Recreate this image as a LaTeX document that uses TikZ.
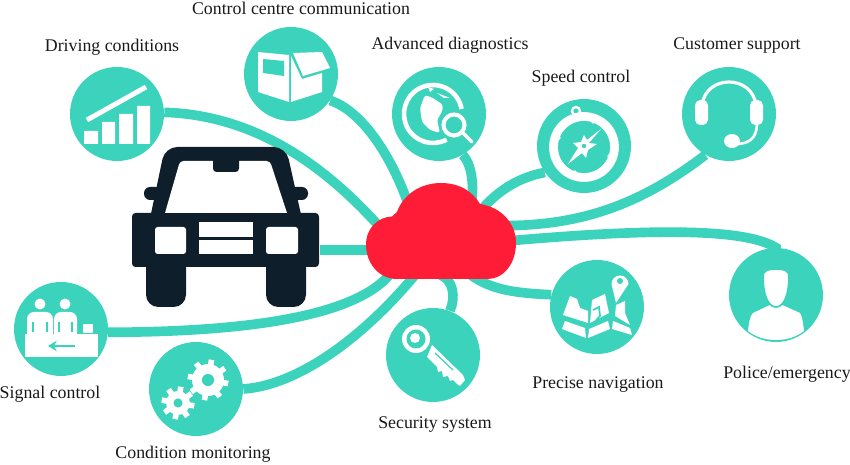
\documentclass[tikz,border=0pt]{standalone}
\usepackage{fontspec}
\setmainfont{Liberation Serif}
\usetikzlibrary{arrows.meta,positioning,backgrounds}
\definecolor{hubteal}{HTML}{3CD3BD}
\definecolor{hubred}{HTML}{FF1C36}
\definecolor{carblue}{HTML}{0E1E2B}

\begin{document}
\begin{tikzpicture}[
        x=0.02cm, y=-0.02cm,
        hub/.style={circle, fill=hubteal, minimum size=1.88cm, inner sep=0pt},
        lbl/.style={inner sep=0pt, text height=7pt, text depth=2pt, text=black!90,
            font=\fontsize{10.15}{12}\selectfont},
        link/.style={draw=hubteal, line width=5.5pt},
        icon/.style={fill=white, draw=none},
        cut/.style={fill=hubteal, draw=none}
    ]
    \useasboundingbox (0,0) rectangle (850,465);

    \node[hub] (driving) at (117,114) {};
    \node[hub] (control) at (291,74) {};
    \node[hub] (advanced) at (439,114) {};
    \node[hub] (speed) at (584,146) {};
    \node[hub] (customer) at (729,114) {};
    \node[hub] (police) at (776,295) {};
    \node[hub] (precise) at (597,307) {};
    \node[hub] (security) at (433,355) {};
    \node[hub] (condition) at (196,389) {};
    \node[hub] (signal) at (61,329) {};

    \node[lbl, above=0.23cm of driving, xshift=-0.1cm] (drivinglbl) {Driving conditions};
    \node[lbl, above=0.17cm of control, xshift=0.2cm] (controllbl) {Control centre communication};
    \node[lbl, above=0.27cm of advanced, xshift=0.22cm] (advancedlbl) {Advanced diagnostics};
    \node[lbl, above=0.25cm of speed, xshift=-0.06cm] (speedlbl) {Speed control};
    \node[lbl, above=0.27cm of customer, xshift=0.16cm] (customerlbl) {Customer support};
    \node[lbl, below=0.47cm of police, xshift=0.22cm] (policelbl) {Police/emergency};
    \node[lbl, below=0.43cm of precise, xshift=0.02cm] (preciselbl) {Precise navigation};
    \node[lbl, below=0.27cm of security, xshift=0.04cm] (securitylbl) {Security system};
    \node[lbl, below=0.19cm of condition, xshift=-0.06cm] (conditionlbl) {Condition monitoring};
    \node[lbl, below=0.19cm of signal, xshift=-0.22cm] (signallbl) {Signal control};

    \node[minimum width=2.4cm, minimum height=1cm, inner sep=0pt] (cloud) at (441,250) {};
    \node[minimum width=3.76cm, minimum height=0.2cm, inner sep=0pt] (car) at (226,250) {};

    \begin{scope}[on background layer]
        \draw[link] (car.east) -- (cloud.west);
        \draw[link] (driving.2) .. controls (250,115) and (320,160) .. (cloud.160);
        \draw[link] (control.-34) .. controls (365,112) and (398,165) .. (cloud.136);
        \draw[link] (advanced.-60) .. controls (473,165) and (477,195) .. (cloud.46);
        \draw[link] (speed.214) .. controls (515,178) and (490,195) .. (cloud.41);
        \draw[link] (customer.240) .. controls (640,205) and (580,226) .. (cloud.22);
        \draw[link] (police.center) -- (police.90) .. controls (740,225) and (620,231) .. (cloud.8);
        \draw[link] (precise.165) .. controls (515,293) and (492,290) .. (cloud.-40);
        \draw[link] (security.69) .. controls (456,297) and (453,280) .. (cloud.-90);
        \draw[link] (condition.east) .. controls (300,385) and (365,335) .. (cloud.224);
        \draw[link] (signal.-4) .. controls (230,332) and (350,320) .. (cloud.206);
    \end{scope}

    % Cloud
    \fill[hubred] (397,279) .. controls (378,279) and (366,262) .. (366,245)
        .. controls (366,228) and (378,217) .. (392,216.5) -- (397,212)
        .. controls (403,195) and (420,183) .. (441,183)
        .. controls (460,183) and (473,192) .. (480,204)
        .. controls (500,207) and (516,222) .. (516,243)
        .. controls (516,264) and (503,279) .. (488,279) -- cycle;

    % Car
    \fill[carblue, rounded corners=7pt] (146,255) rectangle (186,307);
    \fill[carblue, rounded corners=7pt] (266,255) rectangle (306,307);
    \fill[carblue, rounded corners=2pt] (132,213) rectangle (319,267);
    \fill[carblue, rounded corners=3.5pt] (144,187) rectangle (162,200);
    \fill[carblue, rounded corners=3.5pt] (290,187) rectangle (308,200);
    \fill[carblue, rounded corners=7pt] (148,228) -- (165,147) -- (286,147) -- (304,228) -- cycle;
    \fill[white] (165,213) [rounded corners=2pt] -- (180,161) -- (270,161) [sharp corners] -- (287,213) -- cycle;
    \fill[carblue, rounded corners=2pt] (213,155) rectangle (239,172);
    \fill[white, rounded corners=1.5pt] (155,227) rectangle (186,254);
    \fill[white, rounded corners=1.5pt] (266,227) rectangle (298,254);
    \fill[white] (199,222) rectangle (253,237);
    \fill[white] (199,240) rectangle (253,254);

    % Driving conditions icon
    \fill[icon] (84,131) rectangle (98,144) (102,122) rectangle (115,144)
        (119,114) rectangle (133,144) (137,106) rectangle (150,144);
    \draw[white, line width=2.8pt] (87,120) -- (146,87);

    % Control centre icon
    \fill[icon] (258,52) -- (289,55) -- (289,102) -- (258,92) -- cycle;
    \fill[cut] (263,59) -- (284,61) -- (284,76) -- (263,73) -- cycle;
    \fill[icon] (291,56) -- (302,79) -- (322,73) -- (322,92) -- (291,102) -- cycle;
    \fill[icon] (293,53) -- (322,52) -- (330,68) -- (303,76) -- cycle;

    % Advanced diagnostics icon
    \draw[white, line width=2.6pt] (433,114) ++(62:29) arc[start angle=62, end angle=350, radius=29];
    \fill[icon, rounded corners=1.5pt] (420,108) -- (425,95) -- (433,98) -- (443,105) -- (442,112)
        -- (437,120) -- (440,133) -- (430,130) -- (422,122) -- cycle;
    \fill[icon] (428,87) -- (434,89) -- (430,92) -- cycle (437,93) -- (450,98) -- (444,98) -- cycle;
    \fill[cut] (454,125) circle[radius=15];
    \draw[white, line width=2.3pt] (454,125) circle[radius=10.5];
    \draw[white, line width=2pt, line cap=round] (463,133) -- (472,142);

    % Speed control icon
    \draw[white, line width=5pt] (584,147) circle[radius=30.5];
    \draw[white, line width=1.3pt] (576,111) circle[radius=4];
    \fill[icon] (601,129) -- (589,143) -- (597,144) -- (588,150) -- (586,158) -- (582,153)
        -- (568,164) -- (578,148) -- (573,143) -- (581,142) -- (584,135) -- (587,140) -- cycle;
    \fill[cut] (584,146) circle[radius=2.2];
    \foreach \a in {20,110,200,290} {
        \fill[icon] (584,147) ++(\a:27) circle[radius=2];
    }

    % Customer support icon
    \draw[white, line width=1.8pt] (702,105) .. controls (704,90) and (716,82) .. (729,82)
        .. controls (742,82) and (754,90) .. (756,105);
    \fill[icon, rounded corners=3pt] (695,100) rectangle (708,125);
    \fill[icon, rounded corners=3pt] (750,100) rectangle (763,125);
    \draw[white, line width=1.5pt] (757,125) .. controls (756,138) and (750,143) .. (738,144);
    \fill[icon] (732,141) ellipse[x radius=8, y radius=7];

    % Police icon
    \fill[icon] (748,331) .. controls (749,322) and (750,316) .. (753,313) -- (772,304) -- (780,304)
        -- (800,313) .. controls (802,316) and (803,322) .. (804,331)
        .. controls (796,337) and (787,340) .. (776,340)
        .. controls (765,340) and (756,337) .. (748,331) -- cycle;
    \draw[hubteal, line width=1pt, fill=white] (763,277) .. controls (763,270) and (768,269) .. (776,269)
        .. controls (784,269) and (789,270) .. (789,277) .. controls (789,292) and (785,307) .. (776,307)
        .. controls (767,307) and (763,292) .. (763,277) -- cycle;

    % Precise navigation icon
    \fill[icon] (565,321) -- (585,328) -- (586,338) -- (562,329) -- cycle;
    \fill[icon] (589,329) -- (608,321) -- (610,329) -- (588,338) -- cycle;
    \fill[icon] (613,321) -- (630,328) -- (632,335) -- (612,329) -- cycle;
    \fill[icon] (570,296) -- (577,299) -- (580,308) -- (588,311) -- (588,323) -- (563,315) -- cycle;
    \fill[icon] (592,300) -- (605,294) -- (609,313) -- (590,323) -- cycle;
    \fill[icon] (616,305) -- (625,301) -- (625,313) -- (630,325) -- (615,316) -- cycle;
    \draw[hubteal, line width=1pt] (593,310) -- (599,307) -- (600,316) -- (596,320);
    \fill[icon] (616,303) -- (611.5,284) arc[start angle=180, end angle=360, radius=8.5] -- cycle;
    \fill[cut] (620,281) circle[radius=3];

    % Security system icon
    \fill[icon] (416,339) circle[radius=14];
    \fill[cut] (416,339) circle[radius=9.5];
    \fill[icon] (415,338) circle[radius=5];
    \fill[icon] (432,345) -- (463,375) -- (465,380) -- (460,386) -- (457,384) -- (453,380) -- (450,381)
        -- (448,376) -- (443,377) -- (442,371) -- (438,372) -- (437,367) -- (427,357) -- cycle;
    \draw[hubteal, line width=0.7pt] (435,353) -- (453,370);

    % Condition monitoring icon
    \foreach \cx/\cy/\rr in {178/403/12, 208/380/16} {
        \fill[icon] (\cx,\cy) circle[radius=\rr];
        \foreach \a in {0,45,...,315} {
            \draw[white, line width=3.2pt] (\cx,\cy) ++(\a+10:\rr-1) -- ++(\a+10:5.5);
        }
        \fill[cut] (\cx,\cy) circle[radius=\rr*0.38];
    }

    % Signal control icon
    \fill[icon] (40,304) circle[radius=5.5] (65,304) circle[radius=5.5];
    \fill[icon, rounded corners=4pt] (27,312) rectangle (53,340);
    \fill[icon, rounded corners=4pt] (54,312) rectangle (77,340);
    \draw[hubteal, line width=0.8pt] (33,322) -- (33,332) (47,322) -- (47,332) (59,322) -- (59,332) (72,322) -- (72,332);
    \fill[icon] (25,334) rectangle (98,357);
    \fill[icon] (83,324) rectangle (93,333);
    \draw[hubteal, line width=1.4pt, -{Stealth[length=5pt,width=6pt]}] (75,346) -- (48,346);
\end{tikzpicture}
\end{document}
